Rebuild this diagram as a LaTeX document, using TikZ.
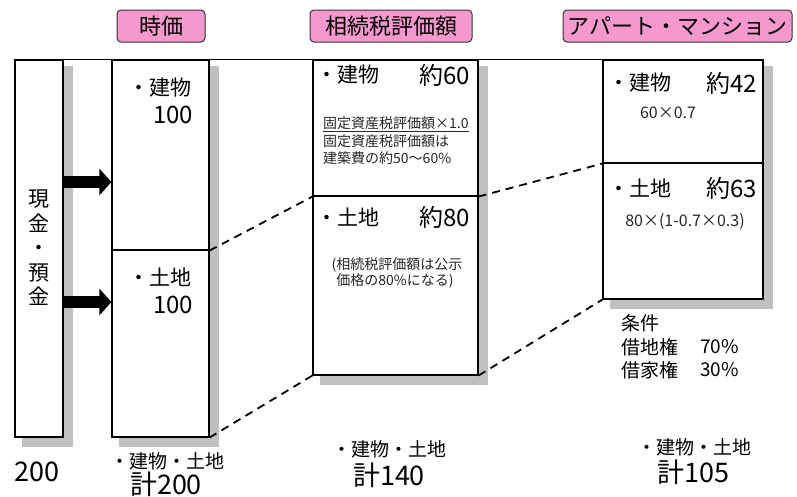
\documentclass[tikz,border=0pt]{standalone}
\usepackage{fontspec}
\setmainfont{Noto Sans CJK JP}
\usetikzlibrary{arrows.meta,calc,backgrounds}
\definecolor{pinkc}{RGB}{245,152,205}
\definecolor{shadowc}{RGB}{192,192,192}
\begin{document}
\begin{tikzpicture}[x=1pt,y=-1pt,
  box/.style={draw=black, line width=1.1pt, fill=white, inner sep=0pt},
  lab/.style={draw=black!80, fill=pinkc, rounded corners=4pt, line width=1pt, inner sep=0pt, font=\fontsize{22}{26}\selectfont},
  txt/.style={inner sep=0pt, font=\fontsize{21}{24}\selectfont},
  num/.style={inner sep=0pt, font=\fontsize{24}{28}\selectfont},
  sml/.style={inner sep=0pt, font=\fontsize{14}{16.5}\selectfont, text=black!85},
  bot/.style={inner sep=0pt, font=\fontsize{19}{22}\selectfont},
  tot/.style={inner sep=0pt, font=\fontsize{27}{30}\selectfont},
  cond/.style={inner sep=0pt, font=\fontsize{19}{22}\selectfont, anchor=west},
  dashline/.style={line width=1.8pt, dash pattern=on 8pt off 6pt},
  bigarrow/.style={line width=12pt, -{Triangle[width=26pt,length=12pt]}}
]
\useasboundingbox (0,0) rectangle (797,496);

% header labels
\node[lab, minimum width=88pt, minimum height=32pt] (l1) at (161,26) {時価};
\node[lab, minimum width=162pt, minimum height=32pt] (l2) at (391,26) {相続税評価額};
\node[lab, minimum width=229pt, minimum height=32pt] (l3) at (677.5,26) {アパート・マンション};

% boxes
\node[box, minimum width=48pt, minimum height=377pt] (cash) at (39,248.5) {};
\node[box, minimum width=97pt, minimum height=190pt] (jt) at (160.5,155) {};
\node[box, minimum width=97pt, minimum height=187pt] (jb) at (160.5,343.5) {};
\node[box, minimum width=165pt, minimum height=136pt] (st) at (395.5,128) {};
\node[box, minimum width=165pt, minimum height=179pt] (sb) at (395.5,285.5) {};
\node[box, minimum width=160pt, minimum height=103pt] (at) at (683,111.5) {};
\node[box, minimum width=160pt, minimum height=136pt] (ab) at (683,231) {};

\begin{scope}[on background layer]
\fill[shadowc] ($(cash.north west)+(8,7)$) rectangle ($(cash.south east)+(9,9)$);
\fill[shadowc] ($(jt.north west)+(8,7)$) rectangle ($(jb.south east)+(9,9)$);
\fill[shadowc] ($(st.north west)+(8,7)$) rectangle ($(sb.south east)+(9,9)$);
\fill[shadowc] ($(at.north west)+(8,7)$) rectangle ($(ab.south east)+(9,9)$);
\end{scope}

% top line
\draw[line width=1.1pt] (cash.north west) -- (at.north east);

% arrows
\coordinate (a1) at (0,182);
\coordinate (a2) at (0,302);
\draw[bigarrow] (cash.east |- a1) -- (jt.west |- a1);
\draw[bigarrow] (cash.east |- a2) -- (jb.west |- a2);

% dashed connectors
\draw[dashline] (jt.south east) -- (st.south west);
\draw[dashline] (jb.south east) -- (sb.south west);
\draw[dashline] (st.south east) -- (at.south west);
\draw[dashline] (sb.south east) -- (ab.south west);

% cash text
\node[txt, align=center, font=\fontsize{21}{24.5}\selectfont] (cashtxt) at (39,248) {現\\金\\・\\預\\金};
\node[tot] (t200) at (37,472) {200};

% jika texts
\node[txt] (j1) at (160,88) {・建物};
\node[num] (j2) at (173,115) {100};
\node[txt] (j3) at (160,277) {・土地};
\node[num] (j4) at (173,305) {100};
\node[bot] (j5) at (167,461) {・建物・土地};
\node[tot] (j6) at (166,484) {計200};

% souzoku texts
\node[txt, anchor=west] (s1) at (316,75) {・建物};
\node[num, anchor=east] (s2) at (470,75) {約60};
\node[sml, anchor=west] (s3) at (323,124) {\underline{固定資産税評価額×1.0}};
\node[sml, anchor=west] (s4) at (323,141) {固定資産税評価額は};
\node[sml, anchor=west] (s5) at (323,158) {建築費の約50～60\%};
\node[txt, anchor=west] (s6) at (316,217) {・土地};
\node[num, anchor=east] (s7) at (470,217) {約80};
\node[sml] (s8) at (397,265) {(相続税評価額は公示};
\node[sml] (s9) at (395,281) {価格の80\%になる)};
\node[bot] (s10) at (389,449) {・建物・土地};
\node[tot] (s11) at (389,475) {計140};

% apart texts
\node[txt, anchor=west] (p1) at (608,83) {・建物};
\node[num, anchor=east] (p2) at (757,83) {約42};
\node[sml, font=\fontsize{16}{18}\selectfont] (p3) at (668,113) {60×0.7};
\node[txt, anchor=west] (p4) at (608,188) {・土地};
\node[num, anchor=east] (p5) at (757,188) {約63};
\node[sml, font=\fontsize{16}{18}\selectfont] (p6) at (685,222) {80×(1-0.7×0.3)};

% conditions
\node[cond] (c1) at (621,323) {条件};
\node[cond] (c2) at (621,347) {借地権};
\node[cond] (c3) at (700,347) {70\%};
\node[cond] (c4) at (621,370) {借家権};
\node[cond] (c5) at (700,370) {30\%};

\node[bot] (p7) at (694,447) {・建物・土地};
\node[tot] (p8) at (693,472) {計105};
\end{tikzpicture}
\end{document}
